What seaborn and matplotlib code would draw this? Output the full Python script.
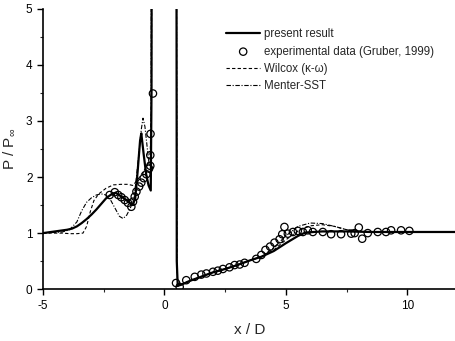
import numpy as np
import pandas as pd
import seaborn as sns
import matplotlib.pyplot as plt
from matplotlib.ticker import MultipleLocator

# present result (solid)
present_x = [-5.0, -4.5, -4.0, -3.8, -3.6, -3.4, -3.2, -3.0, -2.8, -2.6, -2.4, -2.25, -2.1, -2.0,
             -1.8, -1.6, -1.4, -1.3, -1.2, -1.1, -1.0, -0.95, -0.85, -0.75, -0.65, -0.56, -0.53, -0.51,
             0.49, 0.51, 0.55, 0.7, 1.0, 1.5, 2.0, 2.5, 3.0, 3.5, 4.0, 4.5, 5.0, 5.5, 5.8, 6.5, 7.5,
             8.5, 10.0, 12.0]
present_y = [1.0, 1.03, 1.06, 1.08, 1.12, 1.18, 1.25, 1.33, 1.42, 1.52, 1.62, 1.67, 1.71, 1.72,
             1.66, 1.6, 1.53, 1.5, 1.62, 2.1, 2.65, 2.78, 2.4, 2.05, 1.85, 1.76, 3.5, 10.0,
             10.0, 0.5, 0.06, 0.08, 0.14, 0.22, 0.3, 0.36, 0.43, 0.51, 0.58, 0.68, 0.82, 0.95, 1.01,
             1.03, 1.03, 1.02, 1.02, 1.02]

# Wilcox k-w (dashed)
wilcox_x = [-5.0, -4.2, -3.9, -3.6, -3.35, -3.2, -3.05, -2.9, -2.7, -2.4, -2.1, -1.8, -1.5, -1.3,
            -1.1, -0.9, -0.7, -0.58, -0.53, -0.51, 0.49, 0.51, 0.55, 0.7, 1.0, 1.5, 2.0, 2.5, 3.0,
            3.5, 4.0, 4.5, 5.0, 5.5, 6.0, 6.5, 7.0, 7.5, 8.0, 9.0, 10.0, 12.0]
wilcox_y = [1.0, 1.0, 0.99, 0.99, 1.0, 1.12, 1.38, 1.58, 1.7, 1.8, 1.86, 1.87, 1.87, 1.85,
            1.95, 2.08, 2.2, 2.45, 3.5, 10.0, 10.0, 0.5, 0.07, 0.08, 0.14, 0.22, 0.3, 0.36, 0.43,
            0.51, 0.58, 0.7, 0.88, 1.04, 1.13, 1.15, 1.12, 1.06, 1.03, 1.02, 1.02, 1.02]

# Menter-SST (dash-dot)
menter_x = [-5.0, -4.2, -3.9, -3.6, -3.4, -3.2, -3.0, -2.8, -2.6, -2.4, -2.2, -2.0, -1.85, -1.7,
            -1.55, -1.4, -1.25, -1.1, -0.95, -0.88, -0.8, -0.7, -0.62, -0.55, -0.52, 0.49, 0.51,
            0.55, 0.7, 1.0, 1.5, 2.0, 2.5, 3.0, 3.5, 4.0, 4.5, 5.0, 5.5, 6.0, 6.5, 7.0, 7.5, 8.0,
            9.0, 10.0, 12.0]
menter_y = [1.0, 1.02, 1.06, 1.2, 1.4, 1.55, 1.63, 1.68, 1.7, 1.68, 1.58, 1.42, 1.3, 1.26,
            1.32, 1.45, 1.6, 2.2, 2.85, 3.05, 2.9, 2.5, 2.2, 2.3, 10.0, 10.0, 0.5,
            0.07, 0.08, 0.14, 0.22, 0.3, 0.36, 0.43, 0.51, 0.58, 0.74, 0.95, 1.12, 1.18, 1.17,
            1.12, 1.06, 1.03, 1.02, 1.02, 1.02]

# experimental data (Gruber, 1999)
exp_x = [-2.25, -2.04, -1.9, -1.77, -1.63, -1.5, -1.36, -1.29, -1.22, -1.15, -1.04, -0.95, -0.85,
         -0.74, -0.63, -0.58, -0.58, -0.57, -0.47,
         0.48, 0.63, 0.9, 1.25, 1.52, 1.73, 2.0, 2.2, 2.41, 2.68, 2.89, 3.1, 3.3, 3.78, 3.99, 4.16,
         4.35, 4.53, 4.74, 4.85, 4.94, 5.08, 5.29, 5.49, 5.7, 5.9, 6.11, 6.52, 6.86, 7.27, 7.69,
         7.83, 8.0, 8.14, 8.37, 8.78, 9.12, 9.33, 9.74, 10.08]
exp_y = [1.68, 1.73, 1.68, 1.64, 1.59, 1.54, 1.47, 1.56, 1.65, 1.74, 1.83, 1.9, 1.98,
         2.05, 2.15, 2.2, 2.39, 2.77, 3.49,
         0.11, 0.04, 0.16, 0.22, 0.26, 0.28, 0.31, 0.33, 0.36, 0.39, 0.43, 0.44, 0.47, 0.54, 0.61,
         0.7, 0.76, 0.83, 0.89, 0.98, 1.11, 0.99, 1.02, 1.04, 1.02, 1.05, 1.02, 1.02, 0.98, 0.98,
         0.99, 1.0, 1.1, 0.9, 1.0, 1.02, 1.02, 1.05, 1.05, 1.04]

sns.set_style("ticks")
plt.rcParams['font.family'] = ['Liberation Sans', 'DejaVu Sans']
plt.rcParams['mathtext.default'] = 'regular'
plt.rcParams['axes.unicode_minus'] = False

fig = plt.figure(figsize=(4.56, 3.41), dpi=100)
ax = fig.add_axes([0.094, 0.152, 0.906, 0.822])

sns.lineplot(x=present_x, y=present_y, sort=False, estimator=None, color='black', lw=1.6,
             label='present result', ax=ax)
sns.scatterplot(x=exp_x, y=exp_y, marker='o', s=28, facecolors='none', edgecolors='black',
                linewidths=0.9, label='experimental data (Gruber, 1999)', ax=ax, zorder=3)
sns.lineplot(x=wilcox_x, y=wilcox_y, sort=False, estimator=None, color='black', lw=0.8,
             linestyle=(0, (3, 2)), label='Wilcox (\u03ba-\u03c9)', ax=ax)
sns.lineplot(x=menter_x, y=menter_y, sort=False, estimator=None, color='black', lw=0.8,
             linestyle=(0, (4, 1.5, 1, 1.5)), label='Menter-SST', ax=ax)

ax.set_xlim(-5, 12)
ax.set_ylim(0, 5)
ax.xaxis.set_major_locator(MultipleLocator(5))
ax.xaxis.set_minor_locator(MultipleLocator(2.5))
ax.yaxis.set_major_locator(MultipleLocator(1))
ax.yaxis.set_minor_locator(MultipleLocator(0.5))
ax.tick_params(which='major', direction='out', length=4, width=1, labelsize=8.5, colors='black')
ax.tick_params(which='minor', direction='out', length=2, width=0.8)
sns.despine(ax=ax)
for s in ['left', 'bottom']:
    ax.spines[s].set_linewidth(1.2)
    ax.spines[s].set_color('black')

ax.set_xlabel('x / D', fontsize=11, labelpad=8)
ax.set_ylabel('P / P$_\\infty$', fontsize=11, labelpad=6)

ax.legend(loc='upper left', bbox_to_anchor=(0.443, 0.93), frameon=False, fontsize=8.3,
          handlelength=3.0, handletextpad=0.3, labelspacing=0.45, borderpad=0,
          borderaxespad=0)

fig.savefig('out.png', dpi=100)
